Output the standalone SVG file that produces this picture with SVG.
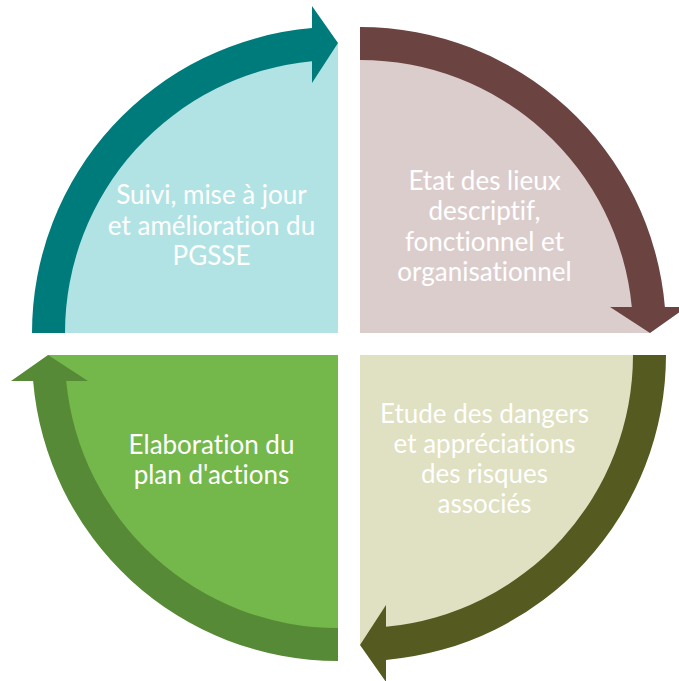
<svg xmlns="http://www.w3.org/2000/svg" width="679" height="681" viewBox="0 0 679 681">
<style>
text{font-family:Lato,"Open Sans","Liberation Sans",sans-serif;font-size:26px;fill:#FFFFFF;text-anchor:middle;font-variant-ligatures:none;font-feature-settings:"liga" 0,"dlig" 0}
</style>
<rect width="679" height="681" fill="#FFFFFF"/>
<g id="node-suivi">
<path d="M338,333 L48,333 A290,290 0 0 1 338,43 Z" fill="#B2E3E4"/>
<text x="211.5" y="204">Suivi, mise à jour</text>
<text x="211.5" y="234.5">et amélioration du</text>
<text x="211.5" y="265">PGSSE</text>
</g>
<g id="node-etat">
<path d="M360,333 L360,43 A290,290 0 0 1 650,333 Z" fill="#DCCDCD"/>
<text x="484.5" y="189.5">Etat des lieux</text>
<text x="484.5" y="220">descriptif,</text>
<text x="484.5" y="250.5">fonctionnel et</text>
<text x="484.5" y="281">organisationnel</text>
</g>
<g id="node-etude">
<path d="M360,355 L650,355 A290,290 0 0 1 360,645 Z" fill="#E0E0C2"/>
<text x="484.5" y="423">Etude des dangers</text>
<text x="484.5" y="453">et appréciations</text>
<text x="484.5" y="483">des risques</text>
<text x="484.5" y="513">associés</text>
</g>
<g id="node-elaboration">
<path d="M338,355 L338,645 A290,290 0 0 1 48,355 Z" fill="#74B74B"/>
<text x="211.5" y="454">Elaboration du</text>
<text x="211.5" y="484">plan d'actions</text>
</g>
<g id="connectors">
<path d="M32,333 A306,306 0 0 1 312,28.1 L312,6 L338,43 L312,83 L312,61.2 A273,273 0 0 0 65,333 Z" fill="#007B7C"/>
<path d="M360,27 A306,306 0 0 1 664.9,307 L687,307 L650,333 L610,307 L631.8,307 A273,273 0 0 0 360,60 Z" fill="#6B4442"/>
<path d="M666,355 A306,306 0 0 1 386,659.9 L386,682 L360,645 L386,605 L386,626.8 A273,273 0 0 0 633,355 Z" fill="#545A20"/>
<path d="M338,661 A306,306 0 0 1 33.1,381 L11,381 L48,355 L88,381 L66.2,381 A273,273 0 0 0 338,628 Z" fill="#578A36"/>
</g>
</svg>
